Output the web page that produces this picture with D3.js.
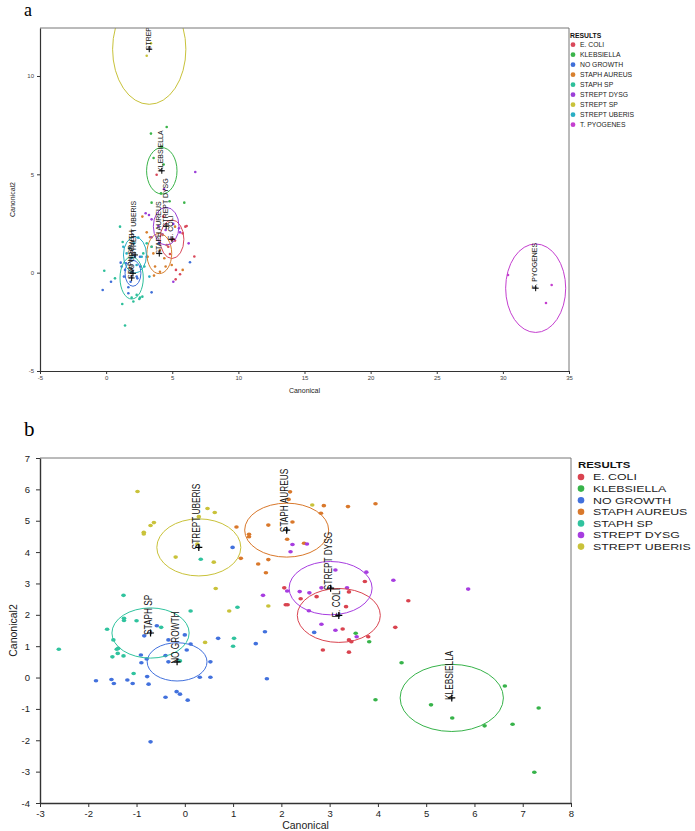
<!DOCTYPE html>
<html><head><meta charset="utf-8">
<script src="https://cdn.jsdelivr.net/npm/d3@7"></script>
<style>body{margin:0;background:#fff} svg{display:block}</style>
</head><body>
<svg id="chart" width="695" height="831"></svg>
<script>
// ================= Panel a data =================
const aCategories = ["E. COLI","KLEBSIELLA","NO GROWTH","STAPH AUREUS","STAPH SP","STREPT DYSG","STREPT SP","STREPT UBERIS","T. PYOGENES"];
const aColors = ["#d9485a","#3bb44a","#3f6fd8","#d77f2e","#2dbf9a","#9b3fd8","#c8c23a","#2aaec4","#c43fcf"];
const aXTicks = [-5,0,5,10,15,20,25,30,35];
const aYTicks = [-5,0,5,10];
const aEColi = [[3.82,4.98],[6.09,2.37],[5.99,2.34],[4.96,1.66],[4.70,1.32],[5.08,1.71],[5.21,1.63],[4.83,0.95],[6.67,0.82],[5.59,-0.08],[5.26,-0.34],[5.28,0.14],[4.32,2.85],[5.79,2.00]];
const aKlebsiella = [[4.58,7.41],[3.39,7.07],[4.20,6.41],[3.59,5.83],[4.15,4.03],[4.80,3.63],[3.44,3.56],[5.91,3.56],[4.35,5.50]];
const aNoGrowth = [[-0.26,-0.88],[0.37,-0.46],[1.10,0.51],[1.17,0.31],[1.35,-0.20],[1.43,0.14],[1.68,-0.74],[1.98,0.05],[2.18,0.81],[2.31,-0.20],[1.85,-0.46],[2.56,0.81],[2.61,0.31],[3.07,0.81],[3.44,-1.00],[2.36,-0.29],[3.99,1.49],[6.34,0.53],[1.68,-1.05],[1.50,0.48]];
const aStaphAureus = [[2.74,2.85],[3.07,2.05],[3.32,1.80],[3.44,1.32],[3.57,0.98],[3.14,0.81],[3.70,0.31],[4.07,0.05],[3.62,-0.15],[4.40,0.73],[4.58,1.41],[4.27,1.92],[4.96,0.39],[5.79,0.14],[4.50,0.31],[5.21,2.34],[4.07,1.15]];
const aStaphSp = [[-0.14,0.10],[1.05,2.34],[1.25,1.56],[0.67,-0.29],[1.22,-1.59],[1.43,-2.69],[1.93,-1.27],[2.06,-1.47],[2.31,-1.13],[2.56,-1.27],[2.74,-1.22],[2.51,-1.34],[3.07,1.49],[2.89,0.31],[3.44,1.32],[2.81,0.98]];
const aStreptDysg = [[6.74,5.12],[2.99,3.02],[3.24,2.93],[3.44,2.71],[4.38,4.24],[3.95,2.37],[4.50,2.17],[5.08,2.48],[5.51,2.26],[5.59,2.05],[6.24,1.49],[3.44,1.80],[4.25,1.95],[5.08,-0.46]];
const aStreptSp = [[3.39,11.66],[3.07,11.03]];
const aStreptUberis = [[1.55,0.98],[2.11,1.49],[1.75,1.24],[2.31,0.39],[2.69,0.81],[1.93,0.73],[1.30,1.32],[2.43,1.78],[3.27,-0.20]];
const aTPyogenes = [[30.39,-0.12],[33.69,-0.63],[33.26,-1.54]];
// group means (cross) and ellipse radii, in data units
const aCenters = [[4.98,1.70],[4.21,5.18],[2.03,-0.03],[4.02,0.97],[1.93,-0.27],[4.54,2.36],[3.26,11.36],[2.18,0.90],[32.48,-0.79]];
const aRadii = [[0.90,0.98],[1.15,1.18],[0.60,0.66],[0.94,1.02],[0.88,1.07],[0.97,0.96],[2.77,2.80],[0.87,0.92],[2.27,2.25]];

// ================= Panel b data =================
const bCategories = ["E. COLI","KLEBSIELLA","NO GROWTH","STAPH AUREUS","STAPH SP","STREPT DYSG","STREPT UBERIS"];
const bColors = ["#d9434f","#37b34a","#4271dd","#d9782b","#30c39e","#a73de0","#c9c23a"];
const bXTicks = [-3,-2,-1,0,1,2,3,4,5,6,7,8];
const bYTicks = [-4,-3,-2,-1,0,1,2,3,4,5,6,7];
const bEColi = [[2.06,2.86],[2.09,2.32],[2.13,2.32],[2.40,2.51],[2.73,2.58],[3.40,2.73],[3.73,3.06],[4.63,2.45],[3.34,2.26],[3.27,1.55],[4.36,1.60],[3.80,1.30],[3.40,1.20],[3.45,1.14],[2.86,0.88],[3.40,0.81]];
const bKlebsiella = [[3.54,1.41],[3.82,1.14],[4.49,0.47],[3.95,-0.71],[5.10,-0.87],[5.54,-1.29],[6.21,-1.54],[6.63,-0.27],[6.79,-1.49],[7.33,-0.97],[7.24,-3.02]];
const bNoGrowth = [[-1.84,-0.10],[-1.52,-0.06],[-1.47,-0.19],[-1.19,-0.08],[-1.08,-0.19],[-0.78,0.03],[-0.75,-0.21],[-0.71,-2.05],[-0.90,0.47],[-0.91,0.72],[-0.84,1.33],[-0.79,0.59],[-0.58,1.65],[-0.40,0.70],[-0.34,1.20],[-0.34,0.50],[-0.40,-0.63],[-0.17,-0.45],[-0.10,-0.53],[0.06,-0.72],[0.00,1.36],[0.04,0.88],[0.12,1.07],[0.31,0.01],[0.53,0.01],[0.53,0.50],[0.69,1.25],[0.99,4.15],[1.47,1.08],[1.66,1.46],[1.70,-0.04],[2.68,1.44]];
const bStaphAureus = [[1.07,4.80],[1.33,4.57],[1.33,4.49],[1.16,3.80],[1.52,3.62],[1.68,3.34],[1.73,3.76],[1.73,4.86],[2.18,5.92],[2.15,5.68],[2.23,4.96],[2.12,4.41],[2.47,4.28],[2.88,5.48],[2.82,5.24],[3.38,5.45],[3.95,5.54]];
const bStaphSp = [[-2.61,0.90],[-1.61,1.54],[-1.48,1.20],[-1.27,2.62],[-1.26,1.89],[-1.26,1.82],[-1.41,0.90],[-1.38,0.93],[-1.39,0.77],[-1.50,0.66],[-1.27,0.69],[-1.06,0.13],[-1.00,1.81],[-0.49,1.60],[0.12,2.12],[0.33,3.77],[-0.10,0.53],[1.09,2.24],[1.02,1.25],[1.00,1.00]];
const bStreptDysg = [[2.23,4.24],[2.19,4.01],[1.62,2.62],[2.12,2.76],[2.53,4.26],[2.38,2.74],[2.58,2.70],[3.12,3.43],[3.76,3.36],[3.36,2.86],[2.83,2.86],[4.32,3.10],[2.57,2.13],[2.83,1.70],[3.12,1.51],[3.56,1.30],[5.87,2.82]];
const bStreptUberis = [[-0.98,5.93],[-0.85,4.63],[-0.85,4.58],[-0.71,4.85],[-0.64,4.94],[-0.19,3.84],[0.29,5.13],[0.47,5.39],[0.62,5.26],[0.26,4.26],[0.60,3.68],[0.64,2.84],[0.92,2.12],[0.42,1.12],[1.73,2.28],[2.64,5.50]];
const bCenters = [[3.19,1.98],[5.53,-0.65],[-0.16,0.50],[2.11,4.70],[-0.71,1.42],[3.02,2.85],[0.29,4.15]];
const bRadii = [[0.86,0.86],[1.07,1.07],[0.62,0.61],[0.87,0.86],[0.80,0.80],[0.86,0.85],[0.87,0.91]];

const svg = d3.select("#chart");
const defs = svg.append("defs");
const FONT = "'Liberation Sans', Arial, Helvetica, sans-serif";

function drawPanel(cfg) {
  const x = d3.scaleLinear().domain(cfg.xDomain).range([cfg.left, cfg.right]);
  const y = d3.scaleLinear().domain(cfg.yDomain).range([cfg.bottom, cfg.top]);
  const groups = cfg.categories.map((name, i) => ({
    name, color: cfg.colors[i], points: cfg.points[i], center: cfg.centers[i], radius: cfg.radii[i]
  }));
  const g = svg.append("g");
  defs.append("clipPath").attr("id", cfg.id + "clip").append("rect")
    .attr("x", cfg.left).attr("y", cfg.top)
    .attr("width", cfg.right - cfg.left).attr("height", cfg.bottom - cfg.top);

  const plot = g.append("g").attr("clip-path", `url(#${cfg.id}clip)`);
  groups.forEach(gr => {
    plot.append("g").selectAll("ellipse").data(gr.points).join("ellipse")
      .attr("cx", d => x(d[0])).attr("cy", d => y(d[1]))
      .attr("rx", cfg.dotRx).attr("ry", cfg.dotRy).attr("fill", gr.color);
  });
  groups.forEach(gr => {
    const [mx, my] = gr.center, [rx, ry] = gr.radius;
    plot.append("ellipse")
      .attr("cx", x(mx)).attr("cy", y(my))
      .attr("rx", x(mx + rx) - x(mx)).attr("ry", y(my) - y(my + ry))
      .attr("fill", "none").attr("stroke", gr.color).attr("stroke-width", 1);
  });
  groups.forEach(gr => {
    const px = x(gr.center[0]), py = y(gr.center[1]);
    plot.append("path")
      .attr("d", `M${px - cfg.cross},${py}H${px + cfg.cross}M${px},${py - cfg.cross}V${py + cfg.cross}`)
      .attr("stroke", "#000").attr("stroke-width", cfg.crossW).attr("fill", "none");
    plot.append("text")
      .attr("transform", `translate(${px + cfg.labDx},${py + cfg.labDy}) rotate(-90) scale(${cfg.labSx},1)`)
      .attr("font-family", FONT).attr("font-size", cfg.labFont).attr("fill", "#111")
      .text(gr.name);
  });

  // frame (top + right)
  g.append("path").attr("d", `M${cfg.left},${cfg.top}H${cfg.right}V${cfg.bottom}`)
    .attr("fill", "none").attr("stroke", "#777").attr("stroke-width", 1);

  const fmt = d => String(d);
  const xa = g.append("g").attr("transform", `translate(0,${cfg.bottom})`)
    .call(d3.axisBottom(x).tickValues(cfg.xTicks).tickFormat(fmt).tickSize(cfg.tick).tickSizeOuter(0).tickPadding(cfg.tickPad));
  const ya = g.append("g").attr("transform", `translate(${cfg.left},0)`)
    .call(d3.axisLeft(y).tickValues(cfg.yTicks).tickFormat(fmt).tickSize(cfg.tick).tickSizeOuter(0).tickPadding(cfg.tickPadY));
  [xa, ya].forEach(a => {
    a.attr("font-family", FONT).attr("font-size", cfg.tickFont);
    a.select(".domain").attr("stroke", "#333").attr("stroke-width", cfg.axisW);
    a.selectAll(".tick line").attr("stroke", "#333");
    a.selectAll(".tick text").attr("fill", cfg.tickColor);
  });

  g.append("text").attr("x", (cfg.left + cfg.right) / 2).attr("y", cfg.xTitleY)
    .attr("text-anchor", "middle").attr("font-family", FONT).attr("font-size", cfg.titleFont)
    .attr("fill", "#222").text("Canonical");
  g.append("text").attr("transform", `translate(${cfg.yTitleX},${(cfg.top + cfg.bottom) / 2}) rotate(-90)`)
    .attr("text-anchor", "middle").attr("font-family", FONT).attr("font-size", cfg.titleFont)
    .attr("fill", "#222").text("Canonical2");

  // legend
  const lg = g.append("g");
  lg.append("text").attr("transform", `translate(${cfg.legX},${cfg.legTitleY}) scale(${cfg.legTitleSx},1)`)
    .attr("font-family", FONT).attr("font-weight", "bold").attr("font-size", cfg.legFont)
    .attr("fill", "#111").text("RESULTS");
  groups.forEach((gr, i) => {
    const cy = cfg.legY0 + i * cfg.legStep;
    lg.append("circle").attr("cx", cfg.legX + cfg.legDotDx).attr("cy", cy).attr("r", cfg.legR).attr("fill", gr.color);
    lg.append("text").attr("transform", `translate(${cfg.legX + cfg.legTextDx},${cy + cfg.legFont * 0.36}) scale(${cfg.legSx},1)`)
      .attr("font-family", FONT).attr("font-size", cfg.legFont).attr("fill", "#222").text(gr.name);
  });

  // panel letter
  g.append("text").attr("x", cfg.letterX).attr("y", cfg.letterY)
    .attr("font-family", "'Liberation Serif', 'Times New Roman', serif").attr("font-size", cfg.letterFont)
    .attr("fill", "#000").text(cfg.letter);
}

drawPanel({
  id: "a", letter: "a", letterX: 24, letterY: 16, letterFont: 18,
  categories: aCategories, colors: aColors,
  points: [aEColi, aKlebsiella, aNoGrowth, aStaphAureus, aStaphSp, aStreptDysg, aStreptSp, aStreptUberis, aTPyogenes],
  centers: aCenters, radii: aRadii,
  xDomain: [-5, 35], yDomain: [-5, 12.44], left: 40, right: 569, top: 28, bottom: 371,
  xTicks: aXTicks, yTicks: aYTicks, tick: 3, tickPad: 2, tickPadY: 3, tickFont: 6, tickColor: "#444", axisW: 1.2,
  dotRx: 1.3, dotRy: 1.3, cross: 3, crossW: 1, labDx: 1.5, labDy: 1, labSx: 0.87, labFont: 8,
  xTitleY: 393, yTitleX: 15, titleFont: 7,
  legX: 570, legTitleY: 37.5, legFont: 6.5, legSx: 1.05, legTitleSx: 1.05, legY0: 44.7, legStep: 10, legR: 2.4, legDotDx: 3, legTextDx: 10
});

drawPanel({
  id: "b", letter: "b", letterX: 24, letterY: 436, letterFont: 21,
  categories: bCategories, colors: bColors,
  points: [bEColi, bKlebsiella, bNoGrowth, bStaphAureus, bStaphSp, bStreptDysg, bStreptUberis],
  centers: bCenters, radii: bRadii,
  xDomain: [-3, 8], yDomain: [-4, 7], left: 40, right: 571, top: 458, bottom: 803,
  xTicks: bXTicks, yTicks: bYTicks, tick: 4, tickPad: 3, tickPadY: 6, tickFont: 9.5, tickColor: "#222", axisW: 1.4,
  dotRx: 2.3, dotRy: 1.8, cross: 3.5, crossW: 1.2, labDx: 1.5, labDy: 2, labSx: 0.72, labFont: 11.5,
  xTitleY: 829, yTitleX: 17, titleFont: 10.5,
  legX: 578, legTitleY: 468, legFont: 9.5, legSx: 1.3, legTitleSx: 1.2, legY0: 477, legStep: 11.6, legR: 3.3, legDotDx: 3, legTextDx: 15
});
</script>
</body></html>
